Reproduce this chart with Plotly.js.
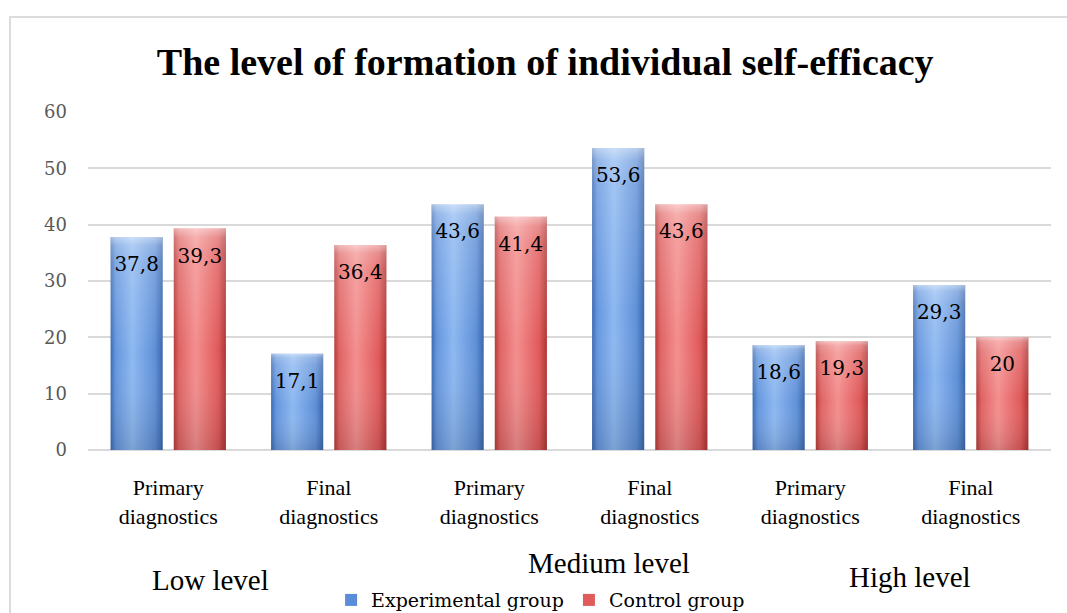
<!DOCTYPE html>
<html><head><meta charset="utf-8">
<script src="https://cdn.plot.ly/plotly-3.0.1.min.js"></script>
<style>
body{margin:0;background:#fff}
#chart{width:1067px;height:613px}
#frame{position:absolute;left:9px;top:16px;width:1100px;height:600px;border:2px solid #dcdcdc;pointer-events:none}
</style>
</head><body>
<div id="chart"></div><div id="frame"></div>
<script>
const chartTitle = 'The level of formation of individual self-efficacy';
const stages = ['Primary<br>diagnostics', 'Final<br>diagnostics', 'Primary<br>diagnostics', 'Final<br>diagnostics', 'Primary<br>diagnostics', 'Final<br>diagnostics'];
const levels = ['Low level', 'Medium level', 'High level'];
const seriesNames = ['Experimental group', 'Control group'];
const experimental = [37.8, 17.1, 43.6, 53.6, 18.6, 29.3];
const control = [39.3, 36.4, 41.4, 43.6, 19.3, 20];
const yTicks = [0, 10, 20, 30, 40, 50, 60];

const xIdx = stages.map((s, i) => i);
const labelFont = {family: 'DejaVu Serif', size: 20, color: '#000'};

function barTrace(name, vals, color) {
  return {
    type: 'bar', name: name, x: xIdx, y: vals,
    marker: {color: color, line: {width: 0}},
    texttemplate: '%{y}', textposition: 'inside', insidetextanchor: 'end',
    constraintext: 'none', textfont: labelFont, insidetextfont: labelFont,
    hoverinfo: 'skip'
  };
}

const data = [
  barTrace(seriesNames[0], experimental, '#5b8cd8'),
  barTrace(seriesNames[1], control, '#e05c5c')
];

const levelPos = [[0.1277, -0.385], [0.541, -0.334], [0.8536, -0.376]];

const layout = {
  width: 1067, height: 613,
  margin: {l: 88, r: 16, t: 112, b: 163, autoexpand: false},
  paper_bgcolor: 'rgba(0,0,0,0)', plot_bgcolor: 'rgba(0,0,0,0)',
  separators: ', ',
  barmode: 'group', bargap: 0.2125, bargroupgap: 0.175,
  font: {family: 'Liberation Serif', color: '#000'},
  showlegend: true,
  title: {
    text: chartTitle,
    font: {family: 'Liberation Serif', size: 38, color: '#000', weight: 'bold'},
    x: 0.511, xanchor: 'center', xref: 'container',
    y: 0.90, yanchor: 'middle', yref: 'container'
  },
  xaxis: {
    tickmode: 'array', tickvals: xIdx, ticktext: stages, range: [-0.5, 5.5],
    showgrid: false, zeroline: false, showline: false, ticks: '',
    tickfont: {family: 'Liberation Serif', size: 22, color: '#000'},
    ticklabelstandoff: 22, fixedrange: true
  },
  yaxis: {
    range: [0, 60], tickmode: 'array', tickvals: yTicks,
    gridcolor: '#d9d9d9', gridwidth: 2,
    zeroline: true, zerolinecolor: '#d9d9d9', zerolinewidth: 2,
    showline: false, ticks: '',
    tickfont: {family: 'DejaVu Serif', size: 18, color: '#595959'},
    ticklabelstandoff: 20, fixedrange: true
  },
  legend: {
    orientation: 'h', x: 0.47, xanchor: 'center', y: -0.444, yanchor: 'middle',
    font: {family: 'DejaVu Serif', size: 19, color: '#000'},
    itemwidth: 30, bgcolor: 'rgba(0,0,0,0)'
  },
  annotations: levels.map((t, i) => ({
    text: t, xref: 'paper', yref: 'paper', x: levelPos[i][0], y: levelPos[i][1],
    xanchor: 'center', yanchor: 'middle', showarrow: false,
    font: {family: 'Liberation Serif', size: 29, color: '#000'}
  }))
};

Plotly.newPlot('chart', data, layout, {staticPlot: true, displayModeBar: false}).then(gd => {
  const NS = 'http://www.w3.org/2000/svg';
  const svg = gd.querySelector('svg.main-svg');
  let defs = svg.querySelector('defs');
  if (!defs) { defs = document.createElementNS(NS, 'defs'); svg.insertBefore(defs, svg.firstChild); }
  function grad(id, stops, vertical) {
    const g = document.createElementNS(NS, 'linearGradient');
    g.setAttribute('id', id);
    g.setAttribute('x1', '0'); g.setAttribute('y1', '0');
    g.setAttribute('x2', vertical ? '0' : '1'); g.setAttribute('y2', vertical ? '1' : '0');
    stops.forEach(s => {
      const st = document.createElementNS(NS, 'stop');
      st.setAttribute('offset', s[0]);
      st.setAttribute('stop-color', s[1]);
      st.setAttribute('stop-opacity', s[2] === undefined ? 1 : s[2]);
      g.appendChild(st);
    });
    defs.appendChild(g);
  }
  grad('gBlue', [[0, '#3c6ab2'], [0.1, '#6596de'], [0.42, '#8db8f1'], [0.85, '#5f90d8'], [1, '#3a66aa']], false);
  grad('gRed', [[0, '#b53a3a'], [0.1, '#e06464'], [0.42, '#f48e8e'], [0.85, '#e05a5a'], [1, '#ae3434']], false);
  grad('gShade', [[0, '#ffffff', 0.55], [0.04, '#ffffff', 0.3], [0.12, '#ffffff', 0.18], [0.55, '#ffffff', 0], [1, '#000000', 0.12]], true);
  const fills = ['url(#gBlue)', 'url(#gRed)'];
  gd.querySelectorAll('.barlayer .trace').forEach((tr, i) => {
    tr.querySelectorAll('.point').forEach(pt => {
      const p = pt.querySelector('path');
      if (p) {
        p.style.fill = fills[i % 2];
        const ov = p.cloneNode();
        ov.style.fill = 'url(#gShade)';
        ov.style.stroke = 'none';
        p.parentNode.insertBefore(ov, p.nextSibling);
      }
      const t = pt.querySelector('text');
      if (t) {
        const tf = t.getAttribute('transform') || '';
        t.setAttribute('transform', 'translate(0,12) ' + tf);
      }
    });
  });
});
</script>
</body></html>
